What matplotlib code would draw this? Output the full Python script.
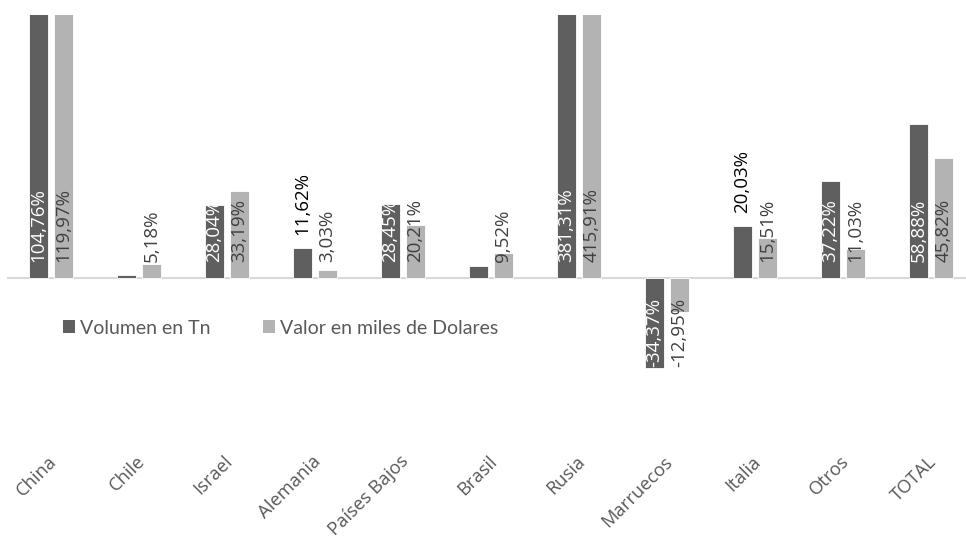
import matplotlib
matplotlib.use("Agg")
import matplotlib.pyplot as plt
import matplotlib.transforms as mtransforms
from matplotlib.patches import Patch
import numpy as np

categories = ["China", "Chile", "Israel", "Alemania", "Países Bajos", "Brasil",
              "Rusia", "Marruecos", "Italia", "Otros", "TOTAL"]
volumen = [104.76, 1.15, 28.04, 11.62, 28.45, 4.7, 381.31, -34.37, 20.03, 37.22, 58.88]
valor = [119.97, 5.18, 33.19, 3.03, 20.21, 9.52, 415.91, -12.95, 15.51, 11.03, 45.82]
series_names = ["Volumen en Tn", "Valor en miles de Dolares"]
# labels that are visible in the reference (white labels on white background are hidden)
show_vol = [True, False, True, True, True, False, True, True, True, True, True]
outside_vol = ["Alemania", "Italia"]

def fmt(v):
    return f"{v:.2f}".replace(".", ",") + "%"

W, H = 966, 538
fig = plt.figure(figsize=(W / 100, H / 100), dpi=100)
top_px, bot_px, left_px = 15, 445, 7
ax = fig.add_axes([left_px / W, 1 - bot_px / H, 968 / W, (bot_px - top_px) / H])

dark = "#5f5f5f"
light = "#b3b3b3"
x = np.arange(len(categories))
bw = 0.225
off = 0.142
ax.bar(x - off, volumen, bw, color=dark, edgecolor="white", linewidth=0.6, zorder=2)
ax.bar(x + off, valor, bw, color=light, edgecolor="white", linewidth=0.6, zorder=2)

ax.set_xlim(-0.5, len(categories) - 0.5)
ax.set_ylim(-64, 100.8)
ax.axhline(0, color="#d9d9d9", linewidth=1.5, zorder=1)

for s in ax.spines.values():
    s.set_visible(False)
ax.set_yticks([])
ax.set_xticks(x)
ax.set_xticklabels(categories, rotation=45, ha="right", va="center",
                   rotation_mode="anchor", fontsize=13.2, color="#595959",
                   family="Open Sans")
ax.tick_params(axis="x", length=0, pad=10)
shift = mtransforms.ScaledTranslation(3 / 100, 0, fig.dpi_scale_trans)
for t in ax.get_xticklabels():
    t.set_transform(t.get_transform() + shift)

lab_font = dict(family="Open Sans", fontsize=13.5, rotation=90, ha="center")
base = 6.1
for i, c in enumerate(categories):
    v = volumen[i]
    if show_vol[i]:
        if c in outside_vol:
            ax.text(x[i] - off, v + 5.0, fmt(v), va="bottom", color="black", **lab_font)
        elif v >= 0:
            ax.text(x[i] - off, base, fmt(v), va="bottom", color="white", **lab_font)
        else:
            ax.text(x[i] - off, -base - 1.5, fmt(v), va="top", color="white", **lab_font)
    w = valor[i]
    if w >= 0:
        ax.text(x[i] + off, base, fmt(w), va="bottom", color="#404040", **lab_font)
    else:
        ax.text(x[i] + off, -base - 1.5, fmt(w), va="top", color="#404040", **lab_font)

handles = [Patch(facecolor=dark, edgecolor="none"), Patch(facecolor=light, edgecolor="none")]
fig.legend(handles, series_names, loc="center left",
           bbox_to_anchor=(63 / W, 1 - 328 / H), ncol=2, frameon=False,
           prop=dict(family="Lato", size=14), labelcolor="#595959",
           handlelength=0.62, handleheight=0.62, handletextpad=0.25,
           columnspacing=2.7, borderpad=0, borderaxespad=0)

fig.savefig("out.png", dpi=100)
